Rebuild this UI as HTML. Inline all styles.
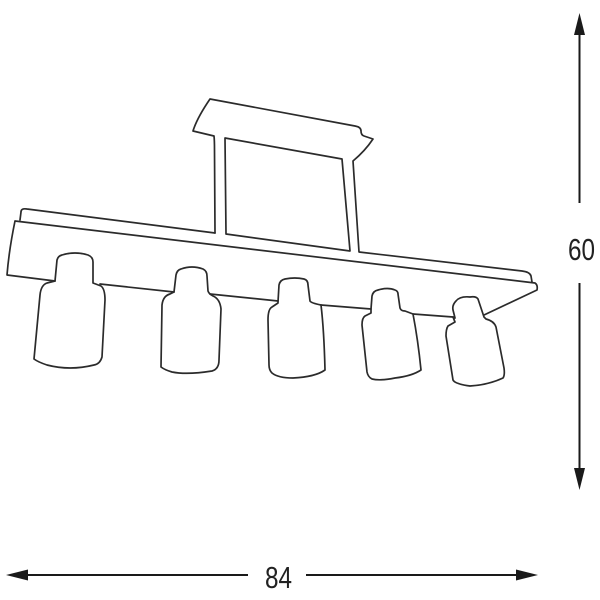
<!DOCTYPE html>
<html><head><meta charset="utf-8"><style>
html,body{margin:0;padding:0;background:#fff}
svg{display:block}
.s{fill:none;stroke:#2b2b2b;stroke-width:1.7;stroke-linejoin:round;stroke-linecap:round}
.d{stroke:#1a1a1a;stroke-width:2;fill:none}
.h{fill:#1a1a1a}
text{font-family:"Liberation Sans",sans-serif;font-size:31px;fill:#222}
</style></head><body>
<svg width="600" height="600" viewBox="0 0 600 600" xmlns="http://www.w3.org/2000/svg">
<!-- ceiling plate and stems -->
<path class="s" d="M215 233L214.500 150Q214.500 140 214 136L193 131Q197 118 210 99L355 126Q361 127 361 131Q361 135 364 136L373 139Q365 151 353 161L359 252L522 271Q530 272 531 276L532 282"/>
<path class="s" d="M225 138L342 159L350 251L226 234Z"/>
<!-- upper bar -->
<path class="s" d="M215 233L27 209Q21 208 21 212L20 220"/>
<!-- main bar -->
<path class="s" d="M55 281L7 275Q9 250 15 221L535 283Q538 285 537 290L484 315"/>
<path class="s" d="M100 284L174 292M210 294L278 301M321 305L371 309M413 314L453 317"/>
<!-- lamp 1 -->
<path class="s" d="M55 281L57 260Q58 256 62 255Q75 251 88 255Q93 257 93 262L93 283L101 286Q105 289 105 300L102 357Q100 364 94 365Q70 371 47 365Q38 362 34 359L40 295Q41 285 47 283Z"/>
<!-- lamp 2 -->
<path class="s" d="M174 292L176 275Q177 270 181 269Q192 265 203 269Q207 271 207 276L208 291Q209 294 213 296Q220 299 221 309L219 360Q219 369 212 371Q187 375 172 372Q165 370 161 367L162 305Q163 296 170 294Z"/>
<!-- lamp 3 -->
<path class="s" d="M278 302L279 285Q280 280 285 279Q295 277 304 279Q308 280 308 285L310 301Q311 303 321 305Q324 330 325 370Q315 377 293 378Q278 378 272 373Q269 370 269 365L268 320Q268 309 272 307L278 303Z"/>
<!-- lamp 4 -->
<path class="s" d="M371 309L372 296Q373 291 378 290Q388 287 395 290Q398 291 398 294L400 308Q401 311 405 311L413 314Q418 340 421 370Q412 376 395 378Q380 381 372 379Q368 377 367 372L362 325Q362 318 365 316L371 313Z"/>
<!-- lamp 5 -->
<path class="s" d="M453 317L455 322L448 326Q446 329 446 336L453 380Q455 384 470 386Q488 385 503 378Q505 375 504 368L496 327Q494 321 486 319L484 317L478 299Q476 296 470 297Q460 296 456 301Q452 305 453 310L455 318"/>
<!-- dimension: height -->
<path class="d" d="M579.500 30V203M579.500 283V472"/>
<path class="h" d="M579.500 13L585 35L574 35Z"/>
<path class="h" d="M579.500 490L585 468L574 468Z"/>
<!-- dimension: width -->
<path class="d" d="M24 575H248M306 575H520"/>
<path class="h" d="M6 575L28 569.500L28 580.500Z"/>
<path class="h" d="M538 575L516 569.500L516 580.500Z"/>
<text x="568" y="260" textLength="27" lengthAdjust="spacingAndGlyphs">60</text>
<text x="265" y="588" textLength="27" lengthAdjust="spacingAndGlyphs">84</text>
</svg>
</body></html>
